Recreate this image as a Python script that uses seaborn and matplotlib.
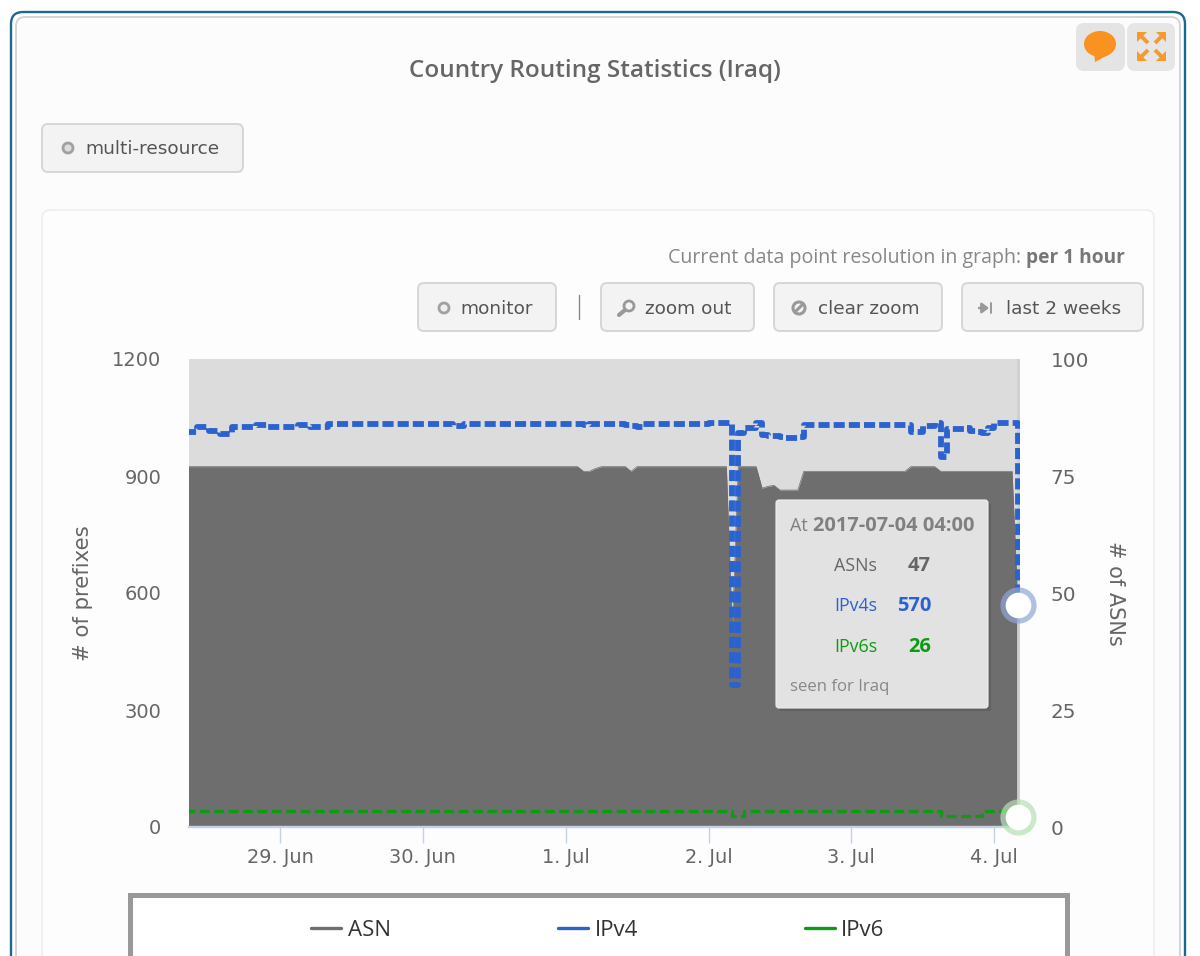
"""Country routing statistics widget for Iraq, hourly ASN / IPv4 / IPv6 counts."""

import matplotlib

matplotlib.use("Agg")
import matplotlib.dates as mdates
import matplotlib.pyplot as plt
import pandas as pd
import seaborn as sns
from matplotlib.lines import Line2D
from matplotlib.patches import Circle, Ellipse, FancyArrowPatch, FancyBboxPatch, Polygon, Rectangle

# Hourly values, 2017-06-28 08:00 to 2017-07-04 04:00
FIRST_HOUR = "2017-06-28 08:00"
LAST_HOUR = "2017-07-04 04:00"

ipv4_jun28 = [1013, 1013, 1025, 1025, 1015, 1015, 1008, 1008, 1025, 1025, 1025, 1025, 1030, 1030, 1025, 1025]
ipv4_jun29 = [1025, 1025, 1025, 1030, 1030, 1025, 1025, 1025, 1033, 1033, 1033, 1033,
              1033, 1033, 1033, 1033, 1033, 1033, 1033, 1033, 1033, 1033, 1033, 1033]
ipv4_jun30 = [1033, 1033, 1033, 1033, 1033, 1028, 1028, 1033, 1033, 1033, 1033, 1033,
              1033, 1033, 1033, 1033, 1033, 1033, 1033, 1033, 1033, 1033, 1033, 1033]
ipv4_jul01 = [1033, 1033, 1033, 1030, 1033, 1033, 1033, 1033, 1033, 1033, 1030, 1028,
              1025, 1033, 1033, 1033, 1033, 1033, 1033, 1033, 1033, 1033, 1033, 1033]
ipv4_jul02 = [1035, 1035, 1035, 1035, 365, 1010, 1023, 1023, 1036, 1005, 1003, 1003,
              1000, 997, 997, 1000, 1030, 1030, 1030, 1030, 1030, 1030, 1030, 1030]
ipv4_jul03 = [1030, 1030, 1030, 1030, 1030, 1030, 1030, 1030, 1030, 1030, 1013, 1013,
              1028, 1028, 1036, 949, 1020, 1020, 1020, 1023, 1015, 1013, 1010, 1023]
ipv4_jul04 = [1036, 1036, 1036, 1036, 570]

ipv6_jun28 = [41] * 16
ipv6_jun29 = [41] * 24
ipv6_jun30 = [41] * 24
ipv6_jul01 = [41] * 24
ipv6_jul02 = [41, 41, 41, 41, 28, 28, 41, 41, 41, 41, 41, 41,
              41, 41, 41, 41, 41, 41, 41, 41, 41, 41, 41, 41]
ipv6_jul03 = [41, 41, 41, 41, 41, 41, 41, 41, 41, 41, 41, 41,
              41, 41, 41, 28, 28, 28, 28, 28, 28, 28, 41, 41]
ipv6_jul04 = [41, 41, 41, 41, 26]

asn_jun28 = [77] * 16
asn_jun29 = [77] * 24
asn_jun30 = [77] * 24
asn_jul01 = [77, 77, 77, 76, 76, 76.6, 77, 77, 77, 77, 77, 76,
             77, 77, 77, 77, 77, 77, 77, 77, 77, 77, 77, 77]
asn_jul02 = [77, 77, 77, 77, 42, 77, 77, 77, 77, 72.4, 72.8, 73,
             72, 72, 72, 72, 76, 76, 76, 76, 76, 76, 76, 76]
asn_jul03 = [76, 76, 76, 76, 76, 76, 76, 76, 76, 76, 77, 77,
             77, 77, 77, 76, 76, 76, 76, 76, 76, 76, 76, 76]
asn_jul04 = [76, 76, 76, 76, 47]

asn = asn_jun28 + asn_jun29 + asn_jun30 + asn_jul01 + asn_jul02 + asn_jul03 + asn_jul04
ipv4 = ipv4_jun28 + ipv4_jun29 + ipv4_jun30 + ipv4_jul01 + ipv4_jul02 + ipv4_jul03 + ipv4_jul04
ipv6 = ipv6_jun28 + ipv6_jun29 + ipv6_jun30 + ipv6_jul01 + ipv6_jul02 + ipv6_jul03 + ipv6_jul04

tick_dates = ["2017-06-29", "2017-06-30", "2017-07-01", "2017-07-02", "2017-07-03", "2017-07-04"]
tick_labels = ["29. Jun", "30. Jun", "1. Jul", "2. Jul", "3. Jul", "4. Jul"]
prefix_ticks = [0, 300, 600, 900, 1200]
asn_ticks = [0, 25, 50, 75, 100]

GREY = "#6e6e6e"
BLUE = "#2b62cf"
GREEN = "#0f9a14"
TEXT = "#666666"
ORANGE = "#f59a2c"
BODY_FONT = "Open Sans"

W, H = 1200, 956

sns.set_style("white")
plt.rcParams["font.family"] = ["DejaVu Sans"]


def rounded(ax, x0, y0, x1, y1, r=6, fc="#f3f3f3", ec="#d6d6d6", lw=1.4, **kw):
    patch = FancyBboxPatch(
        (x0, y0), x1 - x0, y1 - y0,
        boxstyle=f"round,pad=0,rounding_size={r}", fc=fc, ec=ec, lw=lw, **kw,
    )
    ax.add_patch(patch)
    return patch


def draw_chrome(ax):
    # Widget frames
    rounded(ax, 11, 12, 1185, 990, r=12, fc="white", ec="#1a6a8e", lw=1.7)
    rounded(ax, 16, 17, 1180, 990, r=9, fc="#fcfcfc", ec="#d4d4d4", lw=1.4)
    rounded(ax, 42, 210, 1154, 990, r=8, fc="#fdfdfd", ec="#eeeeee", lw=1.2)

    ax.text(595, 71, "Country Routing Statistics (Iraq)", ha="center", va="center",
            fontsize=17.5, fontweight="semibold", color=TEXT, family=BODY_FONT)

    # Top right icons
    rounded(ax, 1077, 24, 1124, 70, r=7, fc="#e4e4e4", ec="#e4e4e4")
    rounded(ax, 1128, 24, 1174, 70, r=7, fc="#e6e6e6", ec="#e6e6e6")
    ax.add_patch(Ellipse((1100, 44), 32, 26, fc="#f7931e", ec="none"))
    ax.add_patch(Polygon([[1094, 52], [1108, 55], [1095, 62]], fc="#f7931e", ec="none"))
    for cx, cy, sx, sy in [(1137, 32, 1, 1), (1166, 32, -1, 1), (1137, 61, 1, -1), (1166, 61, -1, -1)]:
        ax.add_patch(Polygon([[cx, cy], [cx + 10 * sx, cy], [cx, cy + 10 * sy]], fc=ORANGE, ec="none"))
        ax.plot([cx + 4 * sx, cx + 11 * sx], [cy + 4 * sy, cy + 11 * sy], color=ORANGE, lw=2.8,
                solid_capstyle="butt")

    # Buttons
    rounded(ax, 42, 124, 243, 172)
    ax.add_patch(Circle((68, 148), 5, fc="#dddddd", ec="#a0a0a0", lw=2))
    ax.text(85.5, 149, "multi-resource", va="center", fontsize=13.3, color="#555555")

    rounded(ax, 418, 283, 556, 331)
    ax.add_patch(Circle((444, 308), 5, fc="#eeeeee", ec="#a0a0a0", lw=2))
    ax.text(460.5, 309, "monitor", va="center", fontsize=13.3, color="#555555")
    ax.plot([579, 579], [295, 319], color="#888888", lw=1)

    rounded(ax, 601, 283, 754, 331)
    ax.add_patch(Circle((629, 306), 5, fc="none", ec="#999999", lw=2))
    ax.plot([619, 625], [315, 310], color="#999999", lw=3)
    ax.text(645, 309, "zoom out", va="center", fontsize=13.3, color="#555555")

    rounded(ax, 774, 283, 942, 331)
    ax.add_patch(Circle((799, 308), 6, fc="none", ec="#999999", lw=2.2))
    ax.plot([795, 803], [312, 304], color="#999999", lw=2.2)
    ax.text(818, 309, "clear zoom", va="center", fontsize=13.3, color="#555555")

    rounded(ax, 962, 283, 1143, 331)
    ax.add_patch(FancyArrowPatch((979, 308), (989, 308), arrowstyle="-|>,head_width=3,head_length=4",
                                 color="#999999", lw=1.8, shrinkA=0, shrinkB=0))
    ax.plot([991, 991], [303, 313], color="#999999", lw=1.4)
    ax.text(1005.5, 309, "last 2 weeks", va="center", fontsize=13.3, color="#555555")

    # Resolution note
    note = ax.text(1125, 258, "per 1 hour", ha="right", va="center", fontsize=13.8,
                   fontweight="bold", color="#777777", family=BODY_FONT)
    ax.annotate("Current data point resolution in graph: ", xy=(0, 0.5), xycoords=note,
                ha="right", va="center", fontsize=14.1, color="#888888", family=BODY_FONT)

    # Legend frame
    ax.add_patch(Rectangle((130, 895), 937, 95, fc="white", ec="#999999", lw=3.6))


def draw_tooltip(ax):
    rounded(ax, 779, 503, 991, 711, r=2, fc="#555555", ec="none", alpha=0.5)
    rounded(ax, 776, 500, 988, 708, r=3, fc="#e2e2e2", ec="#eeeeee", lw=0.8)
    ax.text(790, 526, "At", va="center", fontsize=13, color="#808080", family=BODY_FONT)
    ax.text(813, 526, "2017-07-04 04:00", va="center", fontsize=14.4, fontweight="bold",
            color="#808080", family=BODY_FONT)
    rows = [("ASNs", "47", 566, "#666666"), ("IPv4s", "570", 606, "#2b62cf"), ("IPv6s", "26", 647, "#0f9a14")]
    for name, value, y, color in rows:
        ax.text(834, y, name, va="center", fontsize=12.8, color=color, family=BODY_FONT)
        ax.text(931, y, value, va="center", ha="right", fontsize=14.5, fontweight="bold",
                color=color, family=BODY_FONT)
    ax.text(790, 687, "seen for Iraq", va="center", fontsize=12.1, color="#888888", family=BODY_FONT)


def main():
    times = pd.date_range(FIRST_HOUR, LAST_HOUR, freq="h")
    df = pd.DataFrame({"time": times, "asn": asn, "ipv4": ipv4, "ipv6": ipv6})

    fig = plt.figure(figsize=(W / 100, H / 100), dpi=100, facecolor="white")

    chrome = fig.add_axes([0, 0, 1, 1], zorder=-1)
    chrome.set_xlim(0, W)
    chrome.set_ylim(H, 0)
    chrome.axis("off")
    draw_chrome(chrome)

    # Plot area is x 189-1020, y 359-827 in pixels
    ax = fig.add_axes([189 / W, 1 - 827 / H, (1020 - 189) / W, (827 - 359) / H])
    ax2 = ax.twinx()
    ax.set_zorder(ax2.get_zorder() + 1)
    ax.patch.set_visible(False)
    ax2.patch.set_visible(True)
    ax2.set_facecolor("#dcdcdc")

    # ASN area on the right axis
    sns.lineplot(data=df, x="time", y="asn", ax=ax2, color=GREY, lw=0.5, errorbar=None, legend=False)
    ax2.fill_between(df["time"], df["asn"], color=GREY, lw=0)
    ax2.axvline(df["time"].iloc[-1], color="#cfcfcf", lw=2, zorder=1)

    sns.lineplot(data=df, x="time", y="ipv6", ax=ax, color=GREEN, lw=2.3, errorbar=None,
                 drawstyle="steps-post", linestyle=(0, (3.1, 1.4)), legend=False)
    sns.lineplot(data=df, x="time", y="ipv4", ax=ax, color=BLUE, lw=4.2, errorbar=None,
                 drawstyle="steps-post", linestyle=(0, (1.9, 0.7)), legend=False)

    # Hover markers on the last hour
    last = df.iloc[[-1]]
    for col, halo in [("ipv4", "#8fa6d6"), ("ipv6", "#b6e0b6")]:
        sns.scatterplot(data=last, x="time", y=col, ax=ax, s=680, color=halo, alpha=0.7,
                        linewidth=0, clip_on=False, zorder=5, legend=False)
        sns.scatterplot(data=last, x="time", y=col, ax=ax, s=340, color="white",
                        linewidth=0, clip_on=False, zorder=6, legend=False)

    ax.set_xlim(pd.Timestamp("2017-06-28 08:43"), pd.Timestamp("2017-07-04 04:20"))
    ax.set_ylim(0, 1200)
    ax2.set_ylim(0, 100)
    ax.set_xticks(pd.to_datetime(tick_dates), tick_labels)
    ax.xaxis.set_major_locator(mdates.DayLocator())
    ax.set_xticklabels(tick_labels)
    ax.set_yticks(prefix_ticks)
    ax2.set_yticks(asn_ticks)

    ax.set_xlabel("")
    ax.set_ylabel("")
    ax2.set_xlabel("")
    ax2.set_ylabel("")
    ax.tick_params(axis="x", length=11.5, width=1, color="#c4d2e4", pad=3.5, labelsize=13.9, labelcolor=TEXT,
                   bottom=True)
    ax.tick_params(axis="y", length=0, pad=20, labelsize=14, labelcolor=TEXT)
    ax2.tick_params(axis="y", length=0, pad=22, labelsize=14.4, labelcolor=TEXT)
    for axis in (ax, ax2):
        for side in ("top", "left", "right"):
            axis.spines[side].set_visible(False)
        axis.spines["bottom"].set_color("#c4d2e4")
        axis.spines["bottom"].set_linewidth(1.6)

    fig.text(83 / W, 1 - 593 / H, "# of prefixes", rotation=90, ha="center", va="center",
             fontsize=15.3, color=TEXT)
    fig.text(1115 / W, 1 - 593 / H, "# of ASNs", rotation=270, ha="center", va="center",
             fontsize=15, color=TEXT)

    # Legend
    handles = [Line2D([], [], color=GREY, lw=2.4), Line2D([], [], color=BLUE, lw=2.4),
               Line2D([], [], color=GREEN, lw=2.4)]
    fig.legend(handles, ["ASN", "IPv4", "IPv6"], ncol=3, loc="center", frameon=False,
               bbox_to_anchor=(598 / W, 1 - 930 / H), handlelength=1.35, handletextpad=0.3,
               columnspacing=7.5, prop={"family": BODY_FONT, "size": 16}, labelcolor="#333333")

    top = fig.add_axes([0, 0, 1, 1], zorder=20)
    top.set_xlim(0, W)
    top.set_ylim(H, 0)
    top.axis("off")
    draw_tooltip(top)

    fig.savefig("out.png", dpi=100)
    plt.close(fig)


if __name__ == "__main__":
    main()
